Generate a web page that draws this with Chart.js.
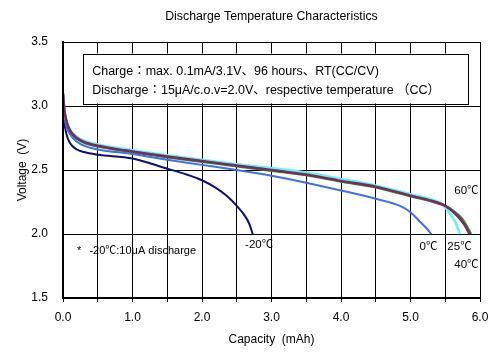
<!DOCTYPE html>
<html>
<head>
<meta charset="utf-8">
<script src="https://cdn.jsdelivr.net/npm/chart.js@4"></script>
<style>
  html, body { margin: 0; padding: 0; background: #fff; }
  #wrap { width: 500px; height: 360px; }
</style>
</head>
<body>
<div id="wrap"><canvas id="discharge"></canvas></div>
<script>
// capacity (mAh) / voltage (V) per temperature
const capM20 = [0, 0.02, 0.05, 0.1, 0.2, 0.3, 0.5, 1.0, 1.5, 1.75, 2.0, 2.2, 2.35, 2.5, 2.62, 2.68, 2.73];
const voltM20 = [3.0, 2.87, 2.78, 2.71, 2.66, 2.64, 2.62, 2.59, 2.51, 2.47, 2.42, 2.36, 2.30, 2.22, 2.14, 2.08, 2.0];

const cap0 = [0, 0.02, 0.05, 0.1, 0.2, 0.3, 0.5, 1.0, 1.5, 2.0, 2.5, 3.0, 3.5, 4.0, 4.5, 4.85, 5.0, 5.13, 5.23, 5.3];
const volt0 = [3.03, 2.92, 2.84, 2.78, 2.72, 2.69, 2.66, 2.625, 2.58, 2.54, 2.50, 2.455, 2.40, 2.34, 2.275, 2.22, 2.17, 2.10, 2.045, 2.0];

const cap25 = [0, 0.02, 0.05, 0.1, 0.2, 0.3, 0.5, 1.0, 1.5, 2.0, 2.5, 3.0, 3.5, 4.0, 4.5, 5.0, 5.3, 5.45, 5.54, 5.64, 5.71];
const volt25 = [3.08, 2.96, 2.88, 2.815, 2.76, 2.73, 2.70, 2.655, 2.615, 2.58, 2.545, 2.515, 2.48, 2.43, 2.38, 2.31, 2.27, 2.235, 2.18, 2.10, 2.0];

const cap40 = [0, 0.02, 0.05, 0.1, 0.2, 0.3, 0.5, 1.0, 1.5, 2.0, 2.5, 3.0, 3.5, 4.0, 4.5, 5.0, 5.3, 5.5, 5.62, 5.74, 5.82, 5.87];
const volt40 = [3.09, 2.965, 2.875, 2.805, 2.745, 2.715, 2.685, 2.64, 2.60, 2.565, 2.53, 2.495, 2.46, 2.41, 2.365, 2.295, 2.255, 2.22, 2.18, 2.12, 2.05, 2.0];

const cap60 = [0, 0.02, 0.05, 0.1, 0.2, 0.3, 0.5, 0.75, 1.0, 1.5, 2.0, 2.5, 3.0, 3.5, 4.0, 4.5, 5.0, 5.3, 5.5, 5.62, 5.74, 5.8, 5.85];
const volt60 = [3.10, 2.97, 2.88, 2.81, 2.75, 2.72, 2.69, 2.665, 2.645, 2.605, 2.57, 2.535, 2.50, 2.465, 2.415, 2.37, 2.30, 2.26, 2.22, 2.17, 2.10, 2.05, 2.0];

const xTicks = [0, 1, 2, 3, 4, 5, 6];
const yTicks = [1.5, 2.0, 2.5, 3.0, 3.5];

const chartTitle = 'Discharge Temperature Characteristics';
const noteLines = ['Charge：max. 0.1mA/3.1V、96 hours、RT(CC/CV)',
                   'Discharge：15μA/c.o.v=2.0V、respective temperature （CC）'];
const footNote = '-20℃:10μA discharge';

const FONT = '"Liberation Sans", Arial, "Noto Sans CJK JP", sans-serif';

function pts(xs, ys) {
    return xs.map(function (x, i) { return { x: x, y: ys[i] }; });
}

function line(label, xs, ys, color, width) {
    return {
        label: label,
        data: pts(xs, ys),
        showLine: true,
        borderColor: color,
        backgroundColor: color,
        borderWidth: width,
        pointRadius: 0,
        cubicInterpolationMode: 'monotone',
        fill: false
    };
}

// title, note box, curve labels and the frame
const decorations = {
    id: 'decorations',
    afterDatasetsDraw: function (chart) {
        const ctx = chart.ctx;
        const a = chart.chartArea;
        const xs = chart.scales.x;
        const ys = chart.scales.y;
        ctx.save();

        // frame
        ctx.strokeStyle = '#000';
        ctx.lineWidth = 1;
        ctx.strokeRect(a.left + 0.5, a.top + 0.5, a.right - a.left, a.bottom - a.top);
        ctx.lineWidth = 2;
        ctx.beginPath();
        ctx.moveTo(a.left, a.top);
        ctx.lineTo(a.left, a.bottom);
        ctx.lineTo(a.right + 1, a.bottom);
        ctx.stroke();

        // title
        ctx.fillStyle = '#000';
        ctx.font = '12.3px ' + FONT;
        ctx.textAlign = 'center';
        ctx.textBaseline = 'middle';
        ctx.fillText(chartTitle, (a.left + a.right) / 2, 17);

        // note box
        const bx = xs.getPixelForValue(0.29), bw = xs.getPixelForValue(5.83) - bx;
        const by = ys.getPixelForValue(3.41), bh = ys.getPixelForValue(3.02) - by;
        ctx.fillStyle = '#fff';
        ctx.fillRect(bx, by, bw, bh);
        ctx.lineWidth = 1;
        ctx.strokeRect(Math.round(bx) + 0.5, Math.round(by) + 0.5, Math.round(bw), Math.round(bh));
        ctx.fillStyle = '#000';
        ctx.textAlign = 'left';
        ctx.font = '12.5px ' + FONT;
        ctx.fillText(noteLines[0], bx + 9, by + 18);
        ctx.fillText(noteLines[1], bx + 9, by + 37);

        // foot note
        ctx.font = '11px ' + FONT;
        ctx.fillText('*', xs.getPixelForValue(0.2), ys.getPixelForValue(1.87));
        ctx.fillText(footNote, xs.getPixelForValue(0.38), ys.getPixelForValue(1.87));

        // curve labels
        ctx.font = '11.5px ' + FONT;
        const tags = [['-20℃', 2.62, 1.917], ['0℃', 5.13, 1.90], ['25℃', 5.53, 1.90],
                      ['60℃', 5.63, 2.335], ['40℃', 5.63, 1.76]];
        tags.forEach(function (t) {
            ctx.fillText(t[0], xs.getPixelForValue(t[1]), ys.getPixelForValue(t[2]));
        });
        ctx.restore();
    }
};

document.addEventListener('DOMContentLoaded', function () {
    const ctx = document.getElementById('discharge').getContext('2d');

    // first dataset is painted on top
    const dischargeChart = new Chart(ctx, {
        type: 'scatter',
        data: {
            datasets: [
                line('60℃', cap60, volt60, '#7a2a5c', 2.5),
                line('25℃', cap25, volt25, '#5ff5f5', 2.5),
                line('40℃', cap40, volt40, '#2f8f2f', 2.5),
                line('0℃', cap0, volt0, '#3f6ff2', 2),
                line('-20℃', capM20, voltM20, '#0f0f7a', 2)
            ]
        },
        options: {
            responsive: true,
            maintainAspectRatio: false,
            animation: false,
            events: [],
            layout: { padding: { top: 42, right: 20, left: 0, bottom: 0 } },
            plugins: {
                legend: { display: false },
                title: { display: false },
                tooltip: { enabled: false }
            },
            scales: {
                x: {
                    type: 'linear',
                    min: 0,
                    max: 6,
                    afterFit: function (scale) { scale.height = 62; },
                    afterBuildTicks: function (scale) {
                        const t = [];
                        for (let v = 0; v <= 6.001; v += 0.5) t.push({ value: Math.round(v * 10) / 10 });
                        scale.ticks = t;
                    },
                    ticks: {
                        color: '#000',
                        font: { family: FONT, size: 12 },
                        padding: 8,
                        maxRotation: 0,
                        autoSkip: false,
                        callback: function (v) { return xTicks.indexOf(v) >= 0 ? v.toFixed(1) : ''; }
                    },
                    grid: {
                        color: '#000',
                        lineWidth: 1,
                        borderDash: [6, 4],
                        drawTicks: true,
                        tickLength: 4,
                        tickBorderDash: [],
                        tickColor: '#000',
                        tickWidth: 1
                    },
                    border: { display: true, color: '#000', width: 2 },
                    title: {
                        display: true,
                        text: 'Capacity  (mAh)',
                        color: '#000',
                        font: { family: FONT, size: 12 },
                        padding: { top: 0, bottom: 13 }
                    }
                },
                y: {
                    type: 'linear',
                    min: 1.5,
                    max: 3.5,
                    afterFit: function (scale) { scale.width = 63; },
                    afterBuildTicks: function (scale) {
                        scale.ticks = yTicks.map(function (v) { return { value: v }; });
                    },
                    ticks: {
                        color: '#000',
                        font: { family: FONT, size: 12 },
                        padding: 15,
                        callback: function (v) { return v.toFixed(1); }
                    },
                    grid: {
                        color: '#000',
                        lineWidth: 1,
                        borderDash: [6, 4],
                        drawTicks: false
                    },
                    border: { display: true, color: '#000', width: 2 },
                    title: {
                        display: true,
                        text: 'Voltage  (V)',
                        color: '#000',
                        font: { family: FONT, size: 12 },
                        padding: { top: 15, bottom: 0 }
                    }
                }
            }
        },
        plugins: [decorations]
    });
});
</script>
</body>
</html>
